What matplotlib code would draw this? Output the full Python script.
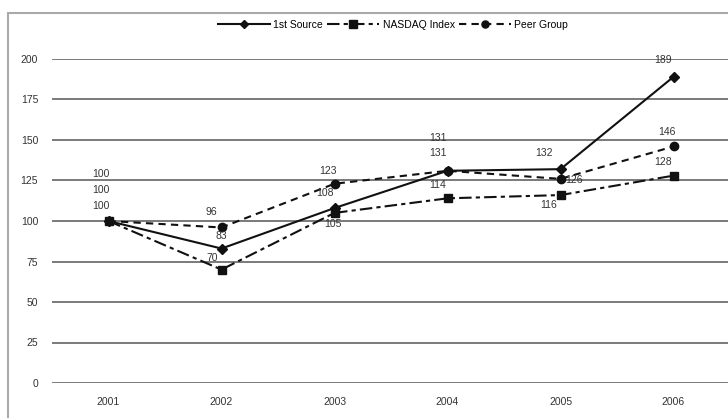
import matplotlib
matplotlib.use("Agg")
import matplotlib.pyplot as plt
from matplotlib.patches import Rectangle

plt.rcParams['font.family'] = ['Liberation Sans', 'DejaVu Sans']

years = ["2001", "2002", "2003", "2004", "2005", "2006"]
first_source = [100, 83, 108, 131, 132, 189]
nasdaq = [100, 70, 105, 114, 116, 128]
peer_group = [100, 96, 123, 131, 126, 146]
series_names = ["1st Source", "NASDAQ Index", "Peer Group"]
y_ticks = [0, 25, 50, 75, 100, 125, 150, 175, 200]

# label offsets in pixels (dx, dy)
off_first = [(-8, 15), (0, 13), (-10, 15), (-10, 18), (-17, 16), (-10, 17)]
off_nasdaq = [(-8, 31), (-9, 12), (-2, -11), (-10, 13), (-12, -10), (-10, 14)]
off_peer = [(-8, 47), (-10, 15), (-7, 13), (-10, 33), (13, -1), (-7, 14)]

fig = plt.figure(figsize=(7.28, 4.18), dpi=100)
W, H = 728, 418
ax = fig.add_axes([52 / W, (H - 383) / H, 678 / W, 324 / H])

x = list(range(len(years)))
col = '#111111'
l1, = ax.plot(x, first_source, color=col, lw=1.5, ls='-', marker='D', ms=5, zorder=5)
l2, = ax.plot(x, nasdaq, color=col, lw=1.5, ls=(0, (6, 2, 2, 2)), marker='s', ms=6, zorder=5)
l3, = ax.plot(x, peer_group, color=col, lw=1.5, ls=(0, (3.5, 2.5)), marker='o', ms=6, zorder=5)

for vals, offs in [(first_source, off_first), (nasdaq, off_nasdaq), (peer_group, off_peer)]:
    for xi, v, (dx, dy) in zip(x, vals, offs):
        ax.annotate(str(v), (xi, v), xytext=(dx, dy), textcoords='offset pixels',
                    ha='center', va='center', fontsize=7.5, color='#333333', zorder=6)

ax.set_xlim(-0.5, 5.5)
ax.set_ylim(0, 200)
ax.set_yticks(y_ticks)
ax.set_xticks(x)
ax.set_xticklabels(years)
for s in ax.spines.values():
    s.set_visible(False)
ax.tick_params(axis='both', length=0, labelsize=7.5, labelcolor='#333333')
ax.tick_params(axis='y', pad=10)
ax.tick_params(axis='x', pad=10)
ax.yaxis.grid(True, color='#707070', lw=1.3)
ax.set_axisbelow(True)
ax.patch.set_alpha(0)

fig.legend([l1, l2, l3], series_names, loc='center', bbox_to_anchor=(393 / W, (H - 25) / H),
           ncol=3, frameon=False, fontsize=7.5, handlelength=5, columnspacing=0.4,
           handletextpad=0.3, markerscale=0.85)

fig.patches.append(Rectangle((8 / W, -0.1), 1.2, (H - 13) / H + 0.1, transform=fig.transFigure,
                             fill=False, edgecolor='#aaaaaa', lw=1.5))

fig.savefig("out.png", dpi=100)
